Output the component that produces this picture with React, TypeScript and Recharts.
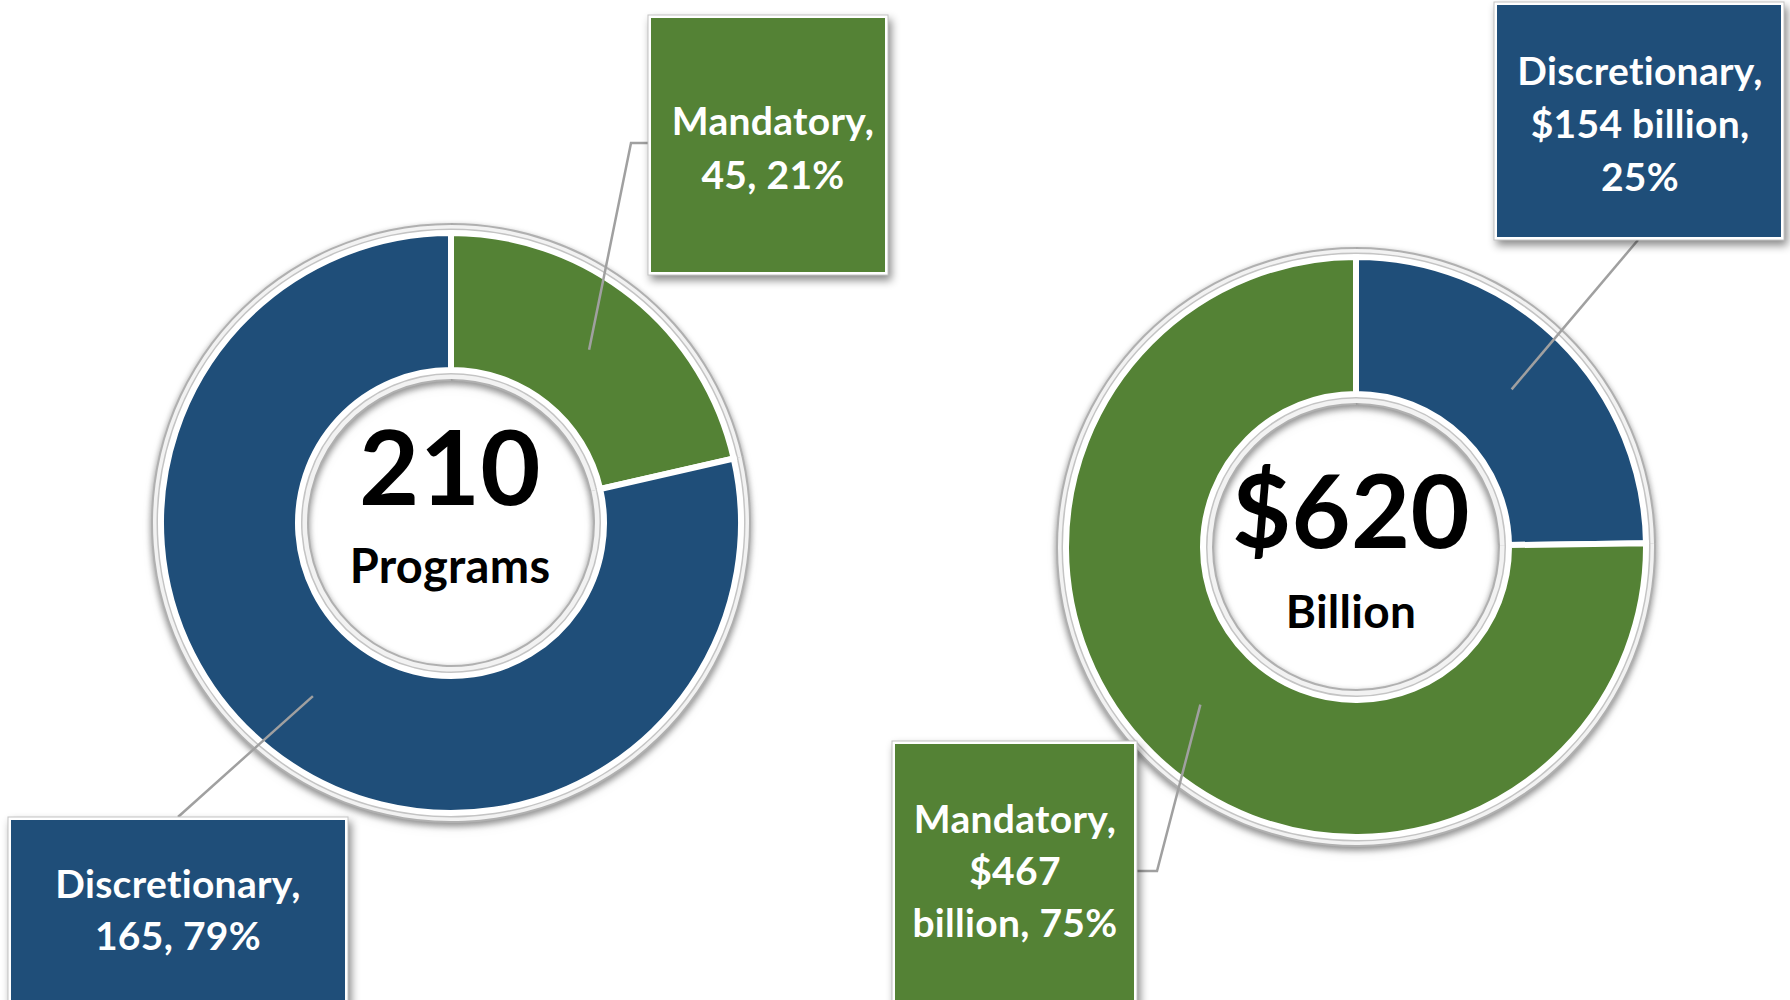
import React from 'react';
import { PieChart, Pie, Cell } from 'recharts';

// ---------- data ----------
const BLUE = '#1f4e79';
const GREEN = '#548235';

const programCategories = ['Mandatory', 'Discretionary'];
const programValues = [45, 165];
const programColors = [GREEN, BLUE];
const programLabelLines = [
  ['Mandatory,', '45, 21%'],
  ['Discretionary,', '165, 79%'],
];

const fundingCategories = ['Discretionary', 'Mandatory'];
const fundingValues = [154, 467];
const fundingColors = [BLUE, GREEN];
const fundingLabelLines = [
  ['Discretionary,', '$154 billion,', '25%'],
  ['Mandatory,', '$467', 'billion, 75%'],
];

const centerTitles = ['210', '$620'];
const centerSubtitles = ['Programs', 'Billion'];

const programData = programCategories.map((name, i) => ({ name, value: programValues[i] }));
const fundingData = fundingCategories.map((name, i) => ({ name, value: fundingValues[i] }));

// ---------- layout ----------
const FONT = "Lato, 'Open Sans', 'DejaVu Sans', sans-serif";
const RAD = Math.PI / 180;
const TEXT_STYLE: React.CSSProperties = {
  fontVariantLigatures: 'none',
  fontFeatureSettings: '"liga" 0, "clig" 0, "dlig" 0, "calt" 0',
  letterSpacing: '0.3px',
};

type Box = {
  x: number; y: number; w: number; h: number;
  textX: number; baseline: number; gap: number;
  path: [number, number][];
};

const programBoxes: Box[] = [
  { x: 648, y: 15, w: 240, h: 260, textX: 773, baseline: 135, gap: 54, path: [[648, 143], [631, 143]] },
  { x: 8, y: 817, w: 340, h: 200, textX: 178, baseline: 898, gap: 52, path: [[178, 817]] },
];
const fundingBoxes: Box[] = [
  { x: 1494, y: 2, w: 290, h: 238, textX: 1640, baseline: 85, gap: 53, path: [[1638, 240]] },
  { x: 892, y: 741, w: 245, h: 270, textX: 1015, baseline: 833, gap: 52, path: [[1137, 871], [1157, 871]] },
];

type Center = { dx: number; titleDy: number; subDy: number; titleSize: number; subSize: number };
const centers: Center[] = [
  { dx: -1, titleDy: -18, subDy: 60, titleSize: 104, subSize: 47 },
  { dx: -5, titleDy: 1, subDy: 81, titleSize: 102, subSize: 46 },
];

function makeLabel(lines: string[][], boxes: Box[], colors: string[], chartIdx: number) {
  return (props: any) => {
    const { cx, cy, midAngle, innerRadius, outerRadius, index } = props;
    const r = (innerRadius + outerRadius) / 2;
    const px = cx + r * Math.cos(-midAngle * RAD);
    const py = cy + r * Math.sin(-midAngle * RAD);
    const b = boxes[index];
    const pts = [[px, py], ...b.path.slice().reverse()];
    const c = centers[chartIdx];
    return (
      <g key={`lab-${chartIdx}-${index}`}>
        <polyline
          points={pts.map((p) => p.join(',')).join(' ')}
          fill="none"
          stroke="#a0a0a0"
          strokeWidth={2.5}
        />
        <rect
          x={b.x}
          y={b.y}
          width={b.w}
          height={b.h}
          fill="#ffffff"
          stroke="#c4c4c4"
          strokeWidth={1}
          style={{ filter: 'drop-shadow(3px 5px 4px rgba(0,0,0,0.45))' }}
        />
        <rect x={b.x + 3} y={b.y + 3} width={b.w - 6} height={b.h - 6} fill={colors[index]} />
        {lines[index].map((t, i) => (
          <text
            key={i}
            x={b.textX}
            y={b.baseline + i * b.gap}
            textAnchor="middle"
            fill="#ffffff"
            fontFamily={FONT}
            fontWeight={700}
            fontSize={39}
            letterSpacing={0.3}
            style={TEXT_STYLE}
          >
            {t}
          </text>
        ))}
        {index === 0 && (
          <g>
            <text
              x={cx + c.dx}
              y={cy + c.titleDy}
              textAnchor="middle"
              fill="#000000"
              fontFamily={FONT}
              fontWeight={700}
              fontSize={c.titleSize}
              style={TEXT_STYLE}
            >
              {centerTitles[chartIdx]}
            </text>
            <text
              x={cx + c.dx}
              y={cy + c.subDy}
              textAnchor="middle"
              fill="#000000"
              fontFamily={FONT}
              fontWeight={700}
              fontSize={c.subSize}
              style={TEXT_STYLE}
            >
              {centerSubtitles[chartIdx]}
            </text>
          </g>
        )}
      </g>
    );
  };
}

export default function App() {
  const donuts = [
    { data: programData, colors: programColors, cx: 451, cy: 523, lines: programLabelLines, boxes: programBoxes },
    { data: fundingData, colors: fundingColors, cx: 1356, cy: 547, lines: fundingLabelLines, boxes: fundingBoxes },
  ];
  const pies: React.ReactNode[] = [];
  donuts.forEach((d, k) => {
    pies.push(
      <Pie
        key={`ringA${k}`}
        data={d.data}
        dataKey="value"
        cx={d.cx}
        cy={d.cy}
        innerRadius={142}
        outerRadius={300}
        startAngle={90}
        endAngle={-270}
        stroke="none"
        fill="#b0b0b0"
        className="ring-shadow"
        isAnimationActive={false}
      >
        {d.data.map((_, i) => <Cell key={i} fill="#b0b0b0" stroke="none" />)}
      </Pie>,
      <Pie
        key={`ringB${k}`}
        data={d.data}
        dataKey="value"
        cx={d.cx}
        cy={d.cy}
        innerRadius={144}
        outerRadius={298}
        startAngle={90}
        endAngle={-270}
        stroke="none"
        fill="#f2f2f2"
        isAnimationActive={false}
      >
        {d.data.map((_, i) => <Cell key={i} fill="#f2f2f2" stroke="none" />)}
      </Pie>,
      <Pie
        key={`ringC${k}`}
        data={d.data}
        dataKey="value"
        cx={d.cx}
        cy={d.cy}
        innerRadius={148.5}
        outerRadius={294.5}
        startAngle={90}
        endAngle={-270}
        stroke="none"
        fill="#c4c4c4"
        isAnimationActive={false}
      >
        {d.data.map((_, i) => <Cell key={i} fill="#c4c4c4" stroke="none" />)}
      </Pie>,
      <Pie
        key={`main${k}`}
        data={d.data}
        dataKey="value"
        nameKey="name"
        cx={d.cx}
        cy={d.cy}
        innerRadius={153}
        outerRadius={290}
        startAngle={90}
        endAngle={-270}
        stroke="#ffffff"
        strokeWidth={6}
        labelLine={false}
        label={makeLabel(d.lines, d.boxes, d.colors, k)}
        isAnimationActive={false}
      >
        {d.data.map((_, i) => <Cell key={i} fill={d.colors[i]} stroke="#ffffff" strokeWidth={6} />)}
      </Pie>
    );
  });

  return (
    <div style={{ position: 'absolute', left: 0, top: 0, width: 1790, height: 1000, background: '#ffffff', overflow: 'hidden' }}>
      <style>{`.ring-shadow { filter: drop-shadow(0px 3px 3px rgba(0,0,0,0.25)); } text { font-variant-ligatures: none; font-feature-settings: "liga" 0, "clig" 0, "dlig" 0; }`}</style>
      <PieChart width={1790} height={1000} margin={{ top: 0, right: 0, bottom: 0, left: 0 }}>
        {pies}
      </PieChart>
    </div>
  );
}
